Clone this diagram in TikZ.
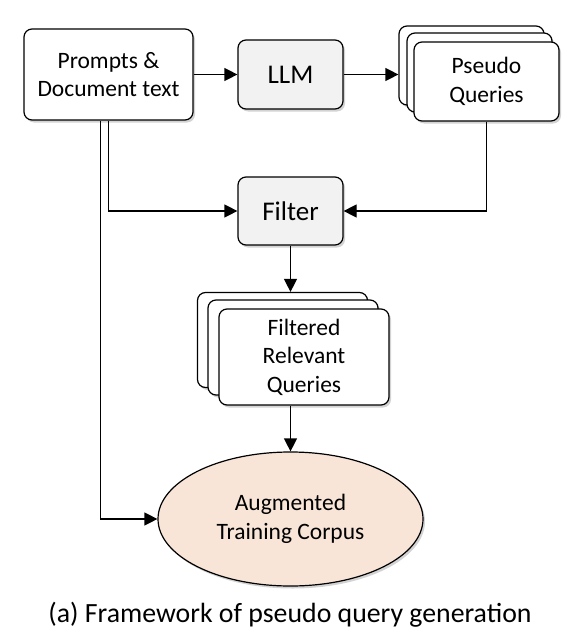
\documentclass[tikz,border=0pt]{standalone}
\usepackage{fontspec}
\setmainfont{Carlito}
\usetikzlibrary{arrows.meta,shadows,shapes.geometric}
\definecolor{boxgray}{HTML}{F2F2F2}
\definecolor{peach}{HTML}{F8E5D8}
\tikzset{
  shad/.style={drop shadow={opacity=0.35,shadow xshift=2pt,shadow yshift=-2.5pt}},
  rbox/.style={draw=black,line width=1.2pt,rounded corners=8pt,fill=white,shad,
     align=center,inner sep=0pt,font=\fontsize{23.5}{28.5}\selectfont},
  gbox/.style={rbox,fill=boxgray,font=\fontsize{27}{30}\selectfont},
  arr/.style={line width=1.2pt,-{Triangle[length=13pt,width=13pt]}},
  ln/.style={line width=1.2pt}
}
\begin{document}
\begin{tikzpicture}[x=1pt,y=-1pt]
\useasboundingbox (0,0) rectangle (588,642);
% Prompts
\node[rbox,minimum width=169pt,minimum height=91pt] (prompts) at (108.5,74.5) {Prompts \&\\Document text};
% LLM
\node[gbox,minimum width=105pt,minimum height=69pt] (llm) at (290.5,74.5) {LLM};
% Pseudo queries stack
\node[rbox,minimum width=145pt,minimum height=79pt] (pq1) at (471.5,65.5) {};
\node[rbox,minimum width=145pt,minimum height=79pt] (pq2) at (479.5,72.5) {};
\node[rbox,minimum width=145pt,minimum height=79pt] (pq3) at (486.5,81.5) {Pseudo\\Queries};
% Filter
\node[gbox,minimum width=105pt,minimum height=68pt] (filter) at (290.5,211) {Filter};
% Filtered stack
\node[rbox,minimum width=170pt,minimum height=95pt] (fq1) at (282.5,340) {};
\node[rbox,minimum width=170pt,minimum height=95pt] (fq2) at (293,347.5) {};
\node[rbox,minimum width=170pt,minimum height=96pt] (fq3) at (304,357) {Filtered\\Relevant\\Queries};
% Corpus
\node[ellipse,draw=black,line width=1.2pt,fill=peach,shad,minimum width=265pt,minimum height=134pt,
      inner sep=0pt,align=center,font=\fontsize{23.5}{29}\selectfont] (corpus) at (290.5,519) {Augmented\\Training Corpus};
% Caption
\node[font=\fontsize{27.8}{30}\selectfont] (cap) at (290,615) {(a) Framework of pseudo query generation};
% Connectors
\draw[arr] (prompts.east) -- (llm.west);
\draw[arr] (llm.east) -- (llm.east -| pq1.west);
\draw[arr] (prompts.south) |- (filter.west);
\draw[arr] ([xshift=-8pt]prompts.south) |- (corpus.west);
\draw[arr] (pq3.south) |- (filter.east);
\draw[arr] (filter.south) -- (filter.south |- fq1.north);
\draw[arr] (fq3.south -| corpus.north) -- (corpus.north);
\end{tikzpicture}
\end{document}
